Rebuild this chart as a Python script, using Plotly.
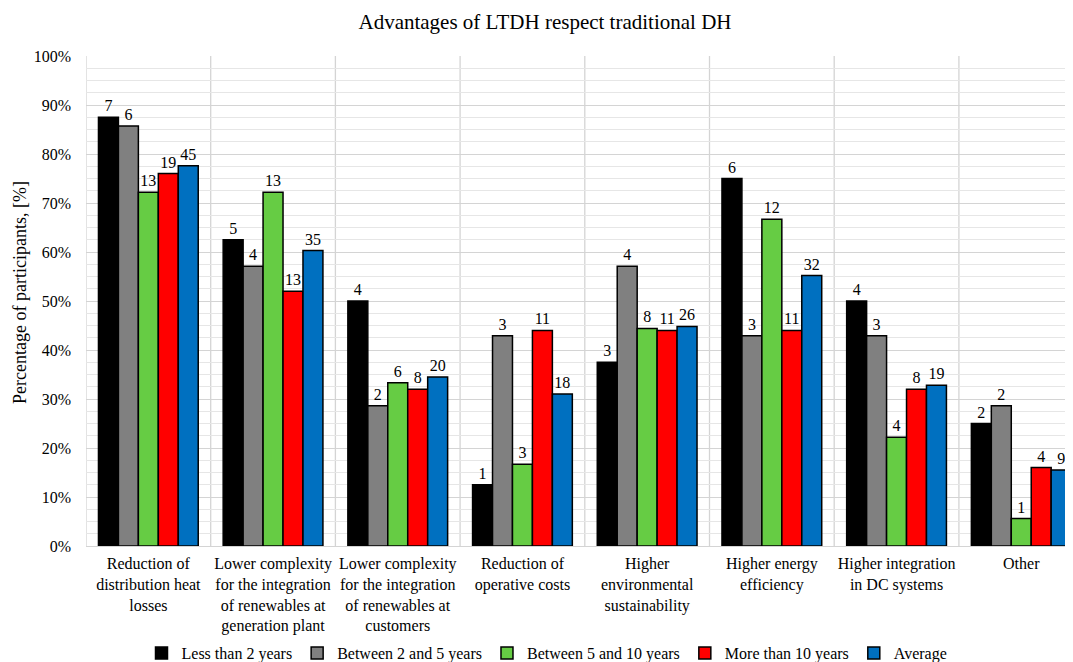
import plotly.graph_objects as go

categories = [
    "Reduction of<br>distribution heat<br>losses",
    "Lower complexity<br>for the integration<br>of renewables at<br>generation plant",
    "Lower complexity<br>for the integration<br>of renewables at<br>customers",
    "Reduction of<br>operative costs",
    "Higher<br>environmental<br>sustainability",
    "Higher energy<br>efficiency",
    "Higher integration<br>in DC systems",
    "Other",
]

series_names = ["Less than 2 years", "Between 2 and 5 years", "Between 5 and 10 years",
                "More than 10 years", "Average"]

less_2_pct = [87.5, 62.5, 50.0, 12.5, 37.5, 75.0, 50.0, 25.0]
less_2_cnt = [7, 5, 4, 1, 3, 6, 4, 2]
b2_5_pct = [85.7, 57.1, 28.6, 42.9, 57.1, 42.9, 42.9, 28.6]
b2_5_cnt = [6, 4, 2, 3, 4, 3, 3, 2]
b5_10_pct = [72.2, 72.2, 33.3, 16.7, 44.4, 66.7, 22.2, 5.6]
b5_10_cnt = [13, 13, 6, 3, 8, 12, 4, 1]
more_10_pct = [76.0, 52.0, 32.0, 44.0, 44.0, 44.0, 32.0, 16.0]
more_10_cnt = [19, 13, 8, 11, 11, 11, 8, 4]
avg_pct = [77.6, 60.3, 34.5, 31.0, 44.8, 55.2, 32.8, 15.5]
avg_cnt = [45, 35, 20, 18, 26, 32, 19, 9]

y_ticks = [0, 10, 20, 30, 40, 50, 60, 70, 80, 90, 100]

colors = ["#000000", "#808080", "#66CC44", "#FF0000", "#0070C0"]
pcts = [less_2_pct, b2_5_pct, b5_10_pct, more_10_pct, avg_pct]
cnts = [less_2_cnt, b2_5_cnt, b5_10_cnt, more_10_cnt, avg_cnt]

FONT = "Liberation Serif"

# page body has an 8px default margin; figure is sized so it fills the 1073x662 window
W, H = 1065, 654
ML, MT, MR = 78, 48, 0
PLOT_H = 490
MB = H - MT - PLOT_H
PLOT_W = W - ML - MR

fig = go.Figure()
x_idx = list(range(len(categories)))
for name, col, p, c in zip(series_names, colors, pcts, cnts):
    fig.add_trace(go.Bar(
        x=x_idx, y=p, name=name,
        marker=dict(color=col, line=dict(color="black", width=1.5)),
        text=[str(v) for v in c], textposition="outside",
        textfont=dict(family=FONT, size=16, color="black"),
        constraintext="none", cliponaxis=False,
        hoverinfo="skip",
    ))

shapes = []
for i in range(len(categories)):
    shapes.append(dict(type="line", xref="x", yref="paper", x0=i + 0.5, x1=i + 0.5,
                       y0=0, y1=1, line=dict(color="#d4d4d4", width=1.3), layer="below"))
shapes.append(dict(type="line", xref="x", yref="paper", x0=-0.5, x1=-0.5,
                   y0=0, y1=1, line=dict(color="#d4d4d4", width=1.3), layer="below"))

fig.update_layout(
    width=W, height=H,
    margin=dict(l=ML, r=MR, t=MT, b=MB, autoexpand=False),
    paper_bgcolor="white", plot_bgcolor="white",
    font=dict(family=FONT, size=16, color="black"),
    title=dict(text="Advantages of LTDH respect traditional DH", x=537 / W, xanchor="center",
               xref="container", yref="container",
               y=1 - 14 / H, yanchor="middle", font=dict(family=FONT, size=21, color="black")),
    barmode="group", bargap=0.2, bargroupgap=0.0,
    shapes=shapes,
    legend=dict(orientation="h", xref="container", yref="container",
                x=539 / W, xanchor="center", y=9 / H, yanchor="middle",
                font=dict(family=FONT, size=16, color="black"), itemwidth=30,
                traceorder="normal", itemclick=False, tracegroupgap=0),
    showlegend=True,
    annotations=[dict(text="Percentage of participants, [%]", textangle=-90,
                      xref="paper", yref="paper", x=(20 - 86) / PLOT_W, y=(546 - 293) / PLOT_H,
                      xanchor="center", yanchor="middle", showarrow=False,
                      font=dict(family=FONT, size=18, color="black"))],
)
fig.update_xaxes(
    tickmode="array", tickvals=x_idx, ticktext=categories,
    range=[-0.5, 7.415], showgrid=False, zeroline=False, showline=False,
    ticks="", tickangle=0, automargin=False, ticklabelstandoff=6,
    tickfont=dict(family=FONT, size=16, color="black"),
)
fig.update_yaxes(
    range=[0, 100], tickmode="array", tickvals=y_ticks,
    ticktext=[f"{v}%" for v in y_ticks],
    showgrid=True, gridcolor="#d4d4d4", gridwidth=1.3,
    minor=dict(dtick=2.5, showgrid=True, gridcolor="#e6e6e6", gridwidth=1),
    zeroline=True, zerolinecolor="#d4d4d4", zerolinewidth=1.3,
    showline=False, ticks="", automargin=False, ticklabelstandoff=14,
    tickfont=dict(family=FONT, size=16, color="black"),
)

fig.write_html("out.html")
